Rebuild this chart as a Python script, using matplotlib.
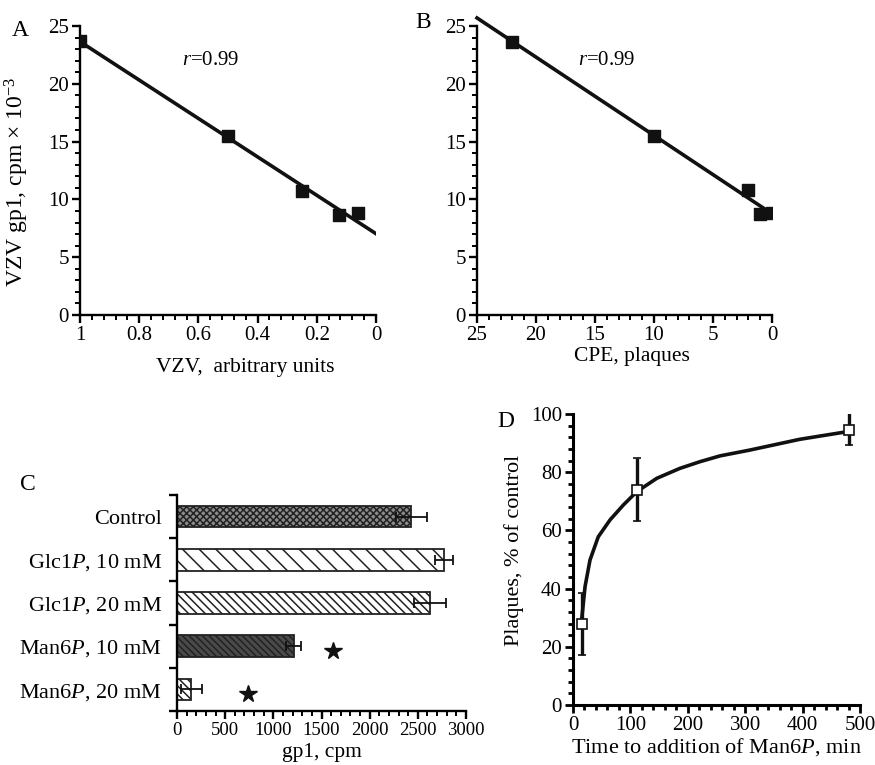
import matplotlib
matplotlib.use("Agg")
import matplotlib.pyplot as plt
import numpy as np
from matplotlib.ticker import MultipleLocator

plt.rcParams['font.family'] = ['Liberation Serif', 'DejaVu Serif']
plt.rcParams['mathtext.fontset'] = 'custom'
plt.rcParams['mathtext.rm'] = 'Liberation Serif'
plt.rcParams['mathtext.it'] = 'Liberation Serif:italic'
plt.rcParams['hatch.linewidth'] = 1.1

# ---------------- data ----------------
# Panel A
vzv_units = [1.0, 0.5, 0.25, 0.125, 0.0625]
gp1_A = [23.7, 15.5, 10.7, 8.65, 8.8]
# Panel B
cpe_plaques = [22.0, 10.0, 2.0, 1.0, 0.0]
gp1_B = [23.65, 15.5, 10.8, 8.7, 8.85]
# Panel C
c_labels = ["Control", "Glc1$\\it{P}$, 10 mM", "Glc1$\\it{P}$, 20 mM",
            "Man6$\\it{P}$, 10 mM", "Man6$\\it{P}$, 20 mM"]
c_values = [2430, 2770, 2630, 1210, 150]
c_errors = [160, 95, 165, 75, 110]
c_star_x = [None, None, None, 1620, 740]
# Panel D
d_time = [15, 111, 480]
d_plaques = [28, 74, 94.5]
d_err_lo = [10.8, 10.6, 5.2]
d_err_hi = [10.6, 10.8, 5.7]
curve_x = [15, 21, 29.6, 44, 64.5, 87.6, 111, 146, 186, 221, 256, 308, 395, 477]
curve_y = [29.2, 40.7, 49.8, 57.8, 63.6, 68.7, 73.3, 77.9, 81.3, 83.6, 85.6, 87.6, 91.3, 93.9]

W, H = 875, 765
fig = plt.figure(figsize=(W / 100, H / 100), dpi=100)


def rect(l, r, t, b):
    return [l / W, 1 - b / H, (r - l) / W, (b - t) / H]


def style(ax, fs=15):
    for s in ['top', 'right']:
        ax.spines[s].set_visible(False)
    for s in ['left', 'bottom']:
        ax.spines[s].set_linewidth(1.7)
    ax.tick_params(which='major', length=6, width=1.7, labelsize=fs, pad=2, direction='out')
    ax.tick_params(which='minor', length=3.5, width=1.4, direction='out')


# ---------- Panel A ----------
axA = fig.add_axes(rect(80, 376, 26, 315))
axA.scatter(vzv_units, gp1_A, marker='s', s=85, color='#111111', zorder=3)
k, b = np.polyfit(vzv_units, gp1_A, 1)
xl = np.array([1.0, 0.0])
axA.plot(xl, k * xl + b, color='#111111', lw=2.6)
axA.set_xlim(1, 0)
axA.set_ylim(0, 25)
axA.xaxis.set_minor_locator(MultipleLocator(0.04))
axA.yaxis.set_major_locator(MultipleLocator(5))
axA.yaxis.set_minor_locator(MultipleLocator(1))
axA.set_xticks([1, 0.8, 0.6, 0.4, 0.2, 0])
axA.set_xticklabels(['1', '0.8', '0.6', '0.4', '0.2', '0'])
style(axA)
axA.set_xlabel("VZV,  arbitrary units", fontsize=15.5)
axA.xaxis.set_label_coords(0.557, -0.148)
axA.set_ylabel("VZV gp1, cpm $\\times$ 10$^{-3}$", fontsize=17)
axA.yaxis.set_label_coords(-0.165, 0.46)
axA.text(0.655, 22, "$\\it{r}$=0.99", fontsize=15, ha='left', va='center')
fig.text(12 / W, 1 - 31 / H, "A", fontsize=17, va='center', ha='left')

# ---------- Panel B ----------
axB = fig.add_axes(rect(477, 772, 26, 315))
axB.scatter(cpe_plaques, gp1_B, marker='s', s=85, color='#111111', zorder=3)
k2, b2 = np.polyfit(cpe_plaques, gp1_B, 1)
xl2 = np.array([25.0, 0.5])
axB.plot(xl2, k2 * xl2 + b2, color='#111111', lw=2.6, clip_on=False)
axB.set_xlim(25, 0)
axB.set_ylim(0, 25)
axB.xaxis.set_major_locator(MultipleLocator(5))
axB.xaxis.set_minor_locator(MultipleLocator(1))
axB.yaxis.set_major_locator(MultipleLocator(5))
axB.yaxis.set_minor_locator(MultipleLocator(1))
style(axB)
axB.set_xlabel("CPE, plaques", fontsize=15.5)
axB.xaxis.set_label_coords(0.526, -0.11)
axB.text(16.4, 22, "$\\it{r}$=0.99", fontsize=15, ha='left', va='center')
fig.text(415 / W, 1 - 22 / H, "B", fontsize=17, va='center', ha='left')

# ---------- Panel C ----------
axC = fig.add_axes(rect(177, 466, 495, 711))
n = len(c_values)
ypos = np.arange(n)[::-1]
faces = ['#8c8c8c', 'white', 'white', '#4a4a4a', 'white']
hatches = ['xxxxx', '\\' * 2, '\\' * 4, '\\' * 5, '\\' * 4]
for yi, v, e, fc, h in zip(ypos, c_values, c_errors, faces, hatches):
    axC.barh(yi, v, height=0.5, color=fc, edgecolor='#222222', hatch=h, linewidth=1.3, zorder=2)
    axC.errorbar(v, yi, xerr=e, fmt='none', ecolor='#111111', elinewidth=1.3,
                 capsize=3.5, capthick=1.3, zorder=3)
for yi, sx in zip(ypos, c_star_x):
    if sx is not None:
        axC.plot(sx, yi - 0.1, marker='*', color='#111111', markersize=13, zorder=3)
axC.set_xlim(0, 3000)
axC.set_ylim(-0.5, n - 0.5)
axC.xaxis.set_major_locator(MultipleLocator(500))
axC.xaxis.set_minor_locator(MultipleLocator(100))
axC.set_yticks(np.arange(-0.5, n, 1.0))
axC.set_yticklabels([])
axC.set_yticks(ypos, minor=True)
axC.set_yticklabels(c_labels, minor=True, fontsize=16)
style(axC, fs=13.5)
axC.tick_params(axis='y', which='minor', length=0, pad=11)
axC.tick_params(axis='y', which='major', length=6)
axC.set_xlabel("gp1, cpm", fontsize=15.5, labelpad=3)
fig.text(20 / W, 1 - 485 / H, "C", fontsize=17, va='center', ha='left')

# ---------- Panel D ----------
axD = fig.add_axes(rect(573, 860, 414, 705))
axD.plot(curve_x, curve_y, color='#111111', lw=2.6, solid_capstyle='round',
         solid_joinstyle='round', zorder=2)
axD.errorbar(d_time, d_plaques, yerr=[d_err_lo, d_err_hi], fmt='s', mfc='white',
             mec='#111111', ms=7, mew=1.2, ecolor='#111111', elinewidth=2.4,
             capsize=3, capthick=2.4, zorder=3)
axD.set_xlim(0, 500)
axD.set_ylim(0, 100)
axD.xaxis.set_major_locator(MultipleLocator(100))
axD.xaxis.set_minor_locator(MultipleLocator(20))
axD.yaxis.set_major_locator(MultipleLocator(20))
axD.yaxis.set_minor_locator(MultipleLocator(4))
style(axD)
for s in ['left', 'bottom']:
    axD.spines[s].set_linewidth(2.2)
axD.tick_params(which='both', width=2.0)
axD.set_xlabel("Time to addition of Man6$\\it{P}$, min", fontsize=16, labelpad=1)
axD.set_ylabel("Plaques, % of control", fontsize=16, labelpad=4)
axD.yaxis.set_label_coords(-0.17, 0.53)
fig.text(497 / W, 1 - 421 / H, "D", fontsize=17, va='center', ha='left')

fig.savefig("out.png", dpi=100)
